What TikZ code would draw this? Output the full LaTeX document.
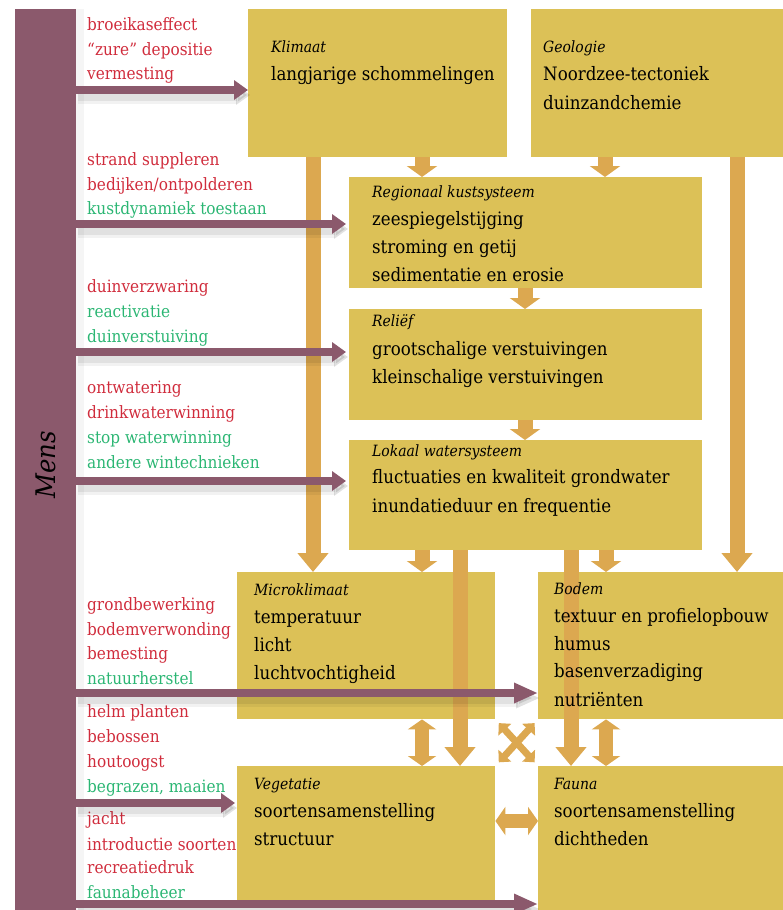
\documentclass[tikz,border=0pt]{standalone}
\usepackage{fontspec}
\setmainfont{DejaVuSerifCondensed.ttf}[ItalicFont=DejaVuSerifCondensed-Italic.ttf, BoldFont=DejaVuSerifCondensed-Bold.ttf]
\usetikzlibrary{arrows.meta}

\definecolor{zyellow}{HTML}{DCC157}
\definecolor{zorange}{HTML}{DCA850}
\definecolor{zpurple}{HTML}{8B596C}
\definecolor{zred}{HTML}{D02C3C}
\definecolor{zgreen}{HTML}{2BB673}

\tikzset{
	box/.style={fill=zyellow, anchor=north west, inner sep=0pt},
	ttl/.style={anchor=base west, inner sep=0pt, font=\fontsize{15.5}{18}\selectfont\itshape},
	txt/.style={anchor=base west, inner sep=0pt, font=\fontsize{18.5}{22}\selectfont},
	lab/.style={anchor=base west, inner sep=0pt, font=\fontsize{17}{20}\selectfont},
	oshort/.style={draw=zorange, line width=15pt, -{Triangle[length=11pt,width=30pt]}},
	olong/.style={draw=zorange, line width=15pt, -{Triangle[length=19pt,width=30pt]}},
	oboth/.style={draw=zorange, line width=14pt, {Triangle[length=10pt,width=28pt]}-{Triangle[length=10pt,width=28pt]}},
	ocross/.style={draw=zorange, line width=7pt, {Triangle[length=9pt,width=17pt]}-{Triangle[length=9pt,width=17pt]}, shorten <=5pt, shorten >=5pt},
	pshadow/.style={preaction={draw=black, opacity=.05, line width=18pt, transform canvas={xshift=2pt, yshift=-5pt}},
		preaction={draw=black, opacity=.07, line width=12pt, transform canvas={xshift=2pt, yshift=-5pt}}},
	parr/.style={pshadow, draw=zpurple, line width=8.5pt, -{Triangle[length=14pt,width=19pt]}},
	plong/.style={pshadow, draw=zpurple, line width=8.5pt, -{Triangle[length=24pt,width=19pt]}}
}

\begin{document}
\begin{tikzpicture}[x=1pt, y=-1pt]
	
	\useasboundingbox (0,0) rectangle (783,910);
	
	% Mens
	\node[fill=black, opacity=.04, anchor=north west, inner sep=0pt, minimum width=69pt, minimum height=901pt] (mensschaduw) at (15,9) {};
	\node[fill=zpurple, anchor=north west, inner sep=0pt, minimum width=61pt, minimum height=901pt] (mens) at (15,9) {};
	\node[rotate=90, inner sep=0pt, font=\fontsize{27}{30}\selectfont\itshape] (menslabel) at (45.5,465) {Mens};
	
	% vakken
	\node[box, minimum width=259pt, minimum height=148pt] (klimaat) at (248,9) {};
	\node[box, minimum width=252pt, minimum height=148pt] (geologie) at (531,9) {};
	\node[box, minimum width=353pt, minimum height=111pt] (kust) at (349,177) {};
	\node[box, minimum width=353pt, minimum height=111pt] (relief) at (349,309) {};
	\node[box, minimum width=353pt, minimum height=110pt] (water) at (349,440) {};
	\node[box, minimum width=258pt, minimum height=147pt] (micro) at (237,572) {};
	\node[box, minimum width=245pt, minimum height=147pt] (bodem) at (538,572) {};
	\node[box, minimum width=258pt, minimum height=134pt] (veget) at (237,766) {};
	\node[box, minimum width=245pt, minimum height=144pt] (fauna) at (538,766) {};
	
	% oranje pijlen
	\draw[oshort] (422,0 |- klimaat.south) -- (422,0 |- kust.north);
	\draw[oshort] (605,0 |- geologie.south) -- (605,0 |- kust.north);
	\draw[oshort] (525,0 |- kust.south) -- (525,0 |- relief.north);
	\draw[oshort] (525,0 |- relief.south) -- (525,0 |- water.north);
	\draw[oshort] (422,0 |- water.south) -- (422,0 |- micro.north);
	\draw[oshort] (606,0 |- water.south) -- (606,0 |- bodem.north);
	
	\draw[olong] (313,0 |- klimaat.south) -- (313,0 |- micro.north);
	\draw[olong] (737,0 |- geologie.south) -- (737,0 |- bodem.north);
	\draw[olong] (460,0 |- water.south) -- (460,0 |- veget.north);
	\draw[olong] (571,0 |- water.south) -- (571,0 |- fauna.north);
	
	\draw[oboth] (422,0 |- micro.south) -- (422,0 |- veget.north);
	\draw[oboth] (606,0 |- bodem.south) -- (606,0 |- fauna.north);
	\draw[oboth] (veget.east |- 0,821) -- (fauna.west |- 0,821);
	
	\draw[ocross] (micro.south east) -- (fauna.north west);
	\draw[ocross] (bodem.south west) -- (veget.north east);
	
	% teksten in de vakken
	\node[ttl] (klimaat-t) at (271,52) {Klimaat};
	\node[txt] (klimaat-1) at (271,80) {langjarige schommelingen};
	
	\node[ttl] (geologie-t) at (543,52) {Geologie};
	\node[txt] (geologie-1) at (543,80) {Noordzee-tectoniek};
	\node[txt] (geologie-2) at (543,109) {duinzandchemie};
	
	\node[ttl] (kust-t) at (372,197) {Regionaal kustsysteem};
	\node[txt] (kust-1) at (372,225) {zeespiegelstijging};
	\node[txt] (kust-2) at (372,253) {stroming en getij};
	\node[txt] (kust-3) at (372,281) {sedimentatie en erosie};
	
	\node[ttl] (relief-t) at (372,326) {Reliëf};
	\node[txt] (relief-1) at (372,355) {grootschalige verstuivingen};
	\node[txt] (relief-2) at (372,383) {kleinschalige verstuivingen};
	
	\node[ttl] (water-t) at (372,456) {Lokaal watersysteem};
	\node[txt] (water-1) at (372,483) {fluctuaties en kwaliteit grondwater};
	\node[txt] (water-2) at (372,512) {inundatieduur en frequentie};
	
	\node[ttl] (micro-t) at (254,595) {Microklimaat};
	\node[txt] (micro-1) at (254,623) {temperatuur};
	\node[txt] (micro-2) at (254,651) {licht};
	\node[txt] (micro-3) at (254,679) {luchtvochtigheid};
	
	\node[ttl] (bodem-t) at (554,594) {Bodem};
	\node[txt] (bodem-1) at (554,622) {textuur en profielopbouw};
	\node[txt] (bodem-2) at (554,650) {humus};
	\node[txt] (bodem-3) at (554,677) {basenverzadiging};
	\node[txt] (bodem-4) at (554,706) {nutriënten};
	
	\node[ttl] (veget-t) at (254,789) {Vegetatie};
	\node[txt] (veget-1) at (254,817) {soortensamenstelling};
	\node[txt] (veget-2) at (254,845) {structuur};
	
	\node[ttl] (fauna-t) at (554,789) {Fauna};
	\node[txt] (fauna-1) at (554,817) {soortensamenstelling};
	\node[txt] (fauna-2) at (554,845) {dichtheden};
	
	% ingrepen
	\foreach \yy/\cc/\txt in {30/zred/broeikaseffect, 55/zred/{``zure'' depositie}, 79/zred/vermesting,
		165/zred/strand suppleren, 190/zred/{bedijken/ontpolderen}, 214/zgreen/kustdynamiek toestaan,
		292/zred/duinverzwaring, 317/zgreen/reactivatie, 342/zgreen/duinverstuiving,
		393/zred/ontwatering, 418/zred/drinkwaterwinning, 443/zgreen/stop waterwinning, 468/zgreen/andere wintechnieken,
		610/zred/grondbewerking, 635/zred/bodemverwonding, 659/zred/bemesting, 684/zgreen/natuurherstel,
		717/zred/helm planten, 742/zred/bebossen, 767/zred/houtoogst, 792/zgreen/{begrazen, maaien},
		824/zred/jacht, 850/zred/introductie soorten, 873/zred/recreatiedruk, 898/zgreen/faunabeheer}
		\node[lab, text=\cc] (lab\yy) at (87,\yy) {\txt};
	
	% paarse pijlen
	\draw[parr] (mens.east |- 0,90) -- (klimaat.west |- 0,90);
	\draw[parr, shorten >=3pt] (mens.east |- 0,224) -- (kust.west |- 0,224);
	\draw[parr, shorten >=3pt] (mens.east |- 0,352) -- (relief.west |- 0,352);
	\draw[parr, shorten >=3pt] (mens.east |- 0,481) -- (water.west |- 0,481);
	\draw[plong] (mens.east |- 0,693) -- (bodem.west |- 0,693);
	\draw[parr, shorten >=2pt] (mens.east |- 0,803) -- (veget.west |- 0,803);
	\draw[plong] (mens.east |- 0,904) -- (fauna.west |- 0,904);
	
\end{tikzpicture}
\end{document}
